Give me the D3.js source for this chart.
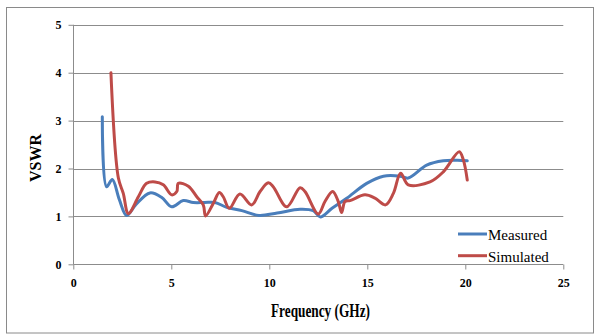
<!DOCTYPE html>
<html>
<head>
<meta charset="utf-8">
<script src="https://cdn.jsdelivr.net/npm/d3@7"></script>
<style>
  html, body { margin: 0; padding: 0; background: #fff; }
  svg { display: block; }
</style>
</head>
<body>
<svg id="chart" width="598" height="336"></svg>
<script>
// Frequency (GHz) and VSWR readings
const measuredFreq = [1.48, 1.70, 1.99, 2.35, 2.72, 3.20, 3.91, 4.50, 5.02, 5.61, 6.12, 6.70, 7.23, 7.83, 8.60, 9.47, 10.40, 11.57, 12.24, 12.60, 13.20, 13.95, 14.97, 15.82, 16.67, 17.09, 18.03, 18.88, 19.60, 20.10];
const measuredVswr = [3.08, 1.62, 1.77, 1.35, 1.02, 1.25, 1.49, 1.40, 1.20, 1.33, 1.29, 1.29, 1.29, 1.19, 1.12, 1.02, 1.07, 1.15, 1.12, 0.99, 1.17, 1.38, 1.69, 1.84, 1.84, 1.80, 2.07, 2.16, 2.17, 2.16];

const simulatedFreq = [1.92, 2.30, 2.55, 2.81, 3.32, 3.74, 4.17, 4.59, 5.02, 5.28, 5.36, 5.87, 6.30, 6.63, 6.75, 7.14, 7.45, 7.65, 7.96, 8.50, 9.10, 9.53, 9.95, 10.20, 10.89, 11.57, 11.82, 12.50, 12.84, 13.23, 13.52, 13.69, 13.86, 14.12, 14.88, 15.39, 15.93, 16.33, 16.70, 17.09, 18.20, 18.88, 19.69, 19.90, 20.10];
const simulatedVswr = [4.00, 1.80, 1.48, 1.06, 1.41, 1.69, 1.72, 1.66, 1.45, 1.52, 1.69, 1.63, 1.41, 1.24, 1.01, 1.27, 1.50, 1.41, 1.17, 1.47, 1.24, 1.52, 1.70, 1.62, 1.20, 1.60, 1.52, 1.05, 1.31, 1.52, 1.31, 1.08, 1.31, 1.33, 1.45, 1.38, 1.24, 1.48, 1.90, 1.66, 1.72, 1.93, 2.35, 2.18, 1.76];

const xTicks = [0, 5, 10, 15, 20, 25];
const yTicks = [0, 1, 2, 3, 4, 5];
const seriesNames = ["Measured", "Simulated"];
const seriesColors = ["#4a7ebb", "#be4b48"];

const svg = d3.select("#chart");

// outer frame
svg.append("rect")
  .attr("x", 6.5).attr("y", 7.5).attr("width", 587).attr("height", 325.5)
  .attr("fill", "none").attr("stroke", "#8a8a8a").attr("stroke-width", 1);

const x = d3.scaleLinear().domain([0, 25]).range([73.3, 563.3]);
const y = d3.scaleLinear().domain([0, 5]).range([264.3, 24.8]);

// horizontal gridlines
svg.append("g")
  .selectAll("line")
  .data(yTicks.filter(d => d > 0))
  .join("line")
  .attr("x1", x(0)).attr("x2", x(25))
  .attr("y1", d => Math.round(y(d)) + 0.5).attr("y2", d => Math.round(y(d)) + 0.5)
  .attr("stroke", "#8c8c8c").attr("stroke-width", 1);

// y axis
const yAxis = svg.append("g")
  .attr("transform", `translate(${Math.round(x(0)) + 0.5},0)`)
  .call(d3.axisLeft(y).tickValues(yTicks).tickSize(5).tickPadding(7).tickFormat(d3.format("d")));
yAxis.select(".domain").attr("stroke", "#8c8c8c").attr("d", `M0,${y(5)}V${y(0)}`);
yAxis.selectAll(".tick line").attr("stroke", "#8c8c8c");
yAxis.selectAll(".tick text")
  .attr("font-family", "'Liberation Serif', 'Times New Roman', serif")
  .attr("font-weight", "bold").attr("font-size", 12).attr("fill", "#000");

// x axis
const xAxis = svg.append("g")
  .attr("transform", `translate(0,${Math.round(y(0)) + 0.5})`)
  .call(d3.axisBottom(x).tickValues(xTicks).tickSize(5).tickPadding(9).tickFormat(d3.format("d")));
xAxis.select(".domain").attr("stroke", "#8c8c8c").attr("d", `M${x(0)},0H${x(25)}`);
xAxis.selectAll(".tick line").attr("stroke", "#8c8c8c");
xAxis.selectAll(".tick text")
  .attr("font-family", "'Liberation Serif', 'Times New Roman', serif")
  .attr("font-weight", "bold").attr("font-size", 12).attr("fill", "#000");

// series lines
const line = d3.line()
  .x(d => x(d[0]))
  .y(d => y(d[1]))
  .curve(d3.curveCatmullRom.alpha(0.5));

const series = [
  d3.zip(measuredFreq, measuredVswr),
  d3.zip(simulatedFreq, simulatedVswr)
];

svg.append("g")
  .selectAll("path")
  .data(series)
  .join("path")
  .attr("d", line)
  .attr("fill", "none")
  .attr("stroke", (d, i) => seriesColors[i])
  .attr("stroke-width", 3)
  .attr("stroke-linejoin", "round")
  .attr("stroke-linecap", "round");

// axis titles
svg.append("text")
  .attr("transform", "translate(41,158) rotate(-90)")
  .attr("text-anchor", "middle")
  .attr("font-family", "'Liberation Serif', 'Times New Roman', serif")
  .attr("font-weight", "bold").attr("font-size", 16)
  .text("VSWR");

svg.append("text")
  .attr("x", 271).attr("y", 317)
  .attr("textLength", 99).attr("lengthAdjust", "spacingAndGlyphs")
  .attr("font-family", "'Liberation Serif', 'Times New Roman', serif")
  .attr("font-weight", "bold").attr("font-size", 18)
  .text("Frequency (GHz)");

// legend
const legend = svg.append("g")
  .selectAll("g")
  .data(seriesNames)
  .join("g")
  .attr("transform", (d, i) => `translate(458,${234 + i * 21.7})`);
legend.append("line")
  .attr("x1", 0).attr("x2", 29).attr("y1", 0).attr("y2", 0)
  .attr("stroke", (d, i) => seriesColors[i]).attr("stroke-width", 3);
legend.append("text")
  .attr("x", 30).attr("y", 6)
  .attr("font-family", "'Liberation Serif', 'Times New Roman', serif")
  .attr("font-size", 15).attr("fill", "#000")
  .text(d => d);
</script>
</body>
</html>
